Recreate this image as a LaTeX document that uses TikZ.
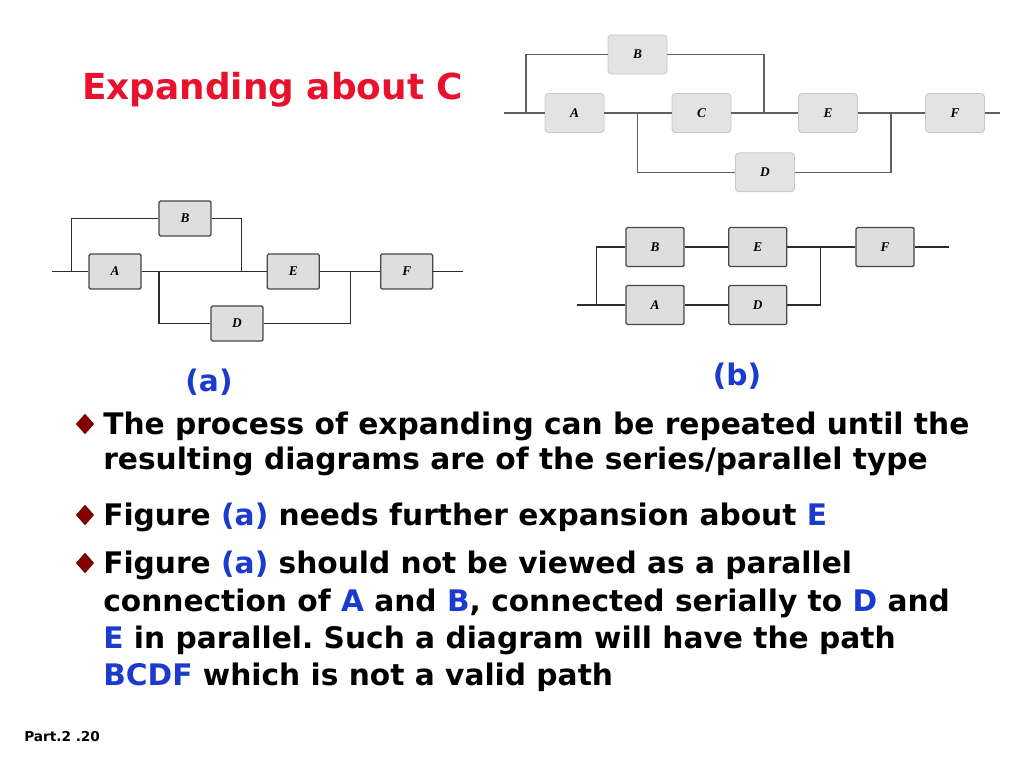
\documentclass[tikz,border=0pt]{standalone}
\usepackage{fontspec}
\setmainfont{DejaVu Sans}
\newfontfamily\boxfont{Liberation Serif}
\usepackage{tikz}
\usetikzlibrary{shapes.geometric}

\definecolor{titlered}{RGB}{232,18,46}
\definecolor{labelblue}{RGB}{28,58,205}
\definecolor{bulletred}{RGB}{128,0,0}
\definecolor{topwire}{RGB}{95,95,95}
\definecolor{wire}{RGB}{45,45,45}

\tikzset{
	topbox/.style={shape=rectangle, rounded corners=2.5pt, draw=black!22, fill=black!11, line width=0.6pt, minimum width=1.475cm, minimum height=0.975cm, font=\boxfont\bfseries\itshape\fontsize{9.5}{9.5}\selectfont},
	smallbox/.style={shape=rectangle, rounded corners=1pt, draw=black!72, fill=black!13, line width=0.9pt, minimum width=1.3cm, minimum height=0.875cm, font=\boxfont\bfseries\itshape\fontsize{9.5}{9.5}\selectfont},
	midbox/.style={smallbox, minimum width=1.45cm, minimum height=0.975cm},
	bodytext/.style={anchor=base west, inner sep=0pt, font=\bfseries\fontsize{21.1}{25}\selectfont},
	bulletmark/.style={shape=diamond, fill=bulletred, inner sep=0pt, minimum width=0.46cm, minimum height=0.52cm}
}
\newcommand{\hl}[1]{\textcolor{labelblue}{#1}}

\begin{document}
\frenchspacing
\begin{tikzpicture}[x=0.025cm, y=-0.025cm]
	\useasboundingbox (0, 0) rectangle (1024, 768);

	% Title:
	\node[anchor=base west, inner sep=0pt, text=titlered, font=\bfseries\fontsize{25.5}{30}\selectfont] (title) at (82, 100) {Expanding about C};

	% Top diagram, nodes and wires:
	\node[topbox] (tA) at (574.5, 113) {A};
	\node[topbox] (tB) at (637.5, 54.5) {B};
	\node[topbox] (tC) at (701.5, 113) {C};
	\node[topbox] (tD) at (765, 172.3) {D};
	\node[topbox] (tE) at (828, 113) {E};
	\node[topbox] (tF) at (955, 113) {F};
	\coordinate (tin) at (504, 113);
	\coordinate (tj1) at (526, 113);
	\coordinate (tj2) at (637.7, 113);
	\coordinate (tj3) at (764, 113);
	\coordinate (tj4) at (891, 113);
	\coordinate (tout) at (1000, 113);
	\begin{scope}[draw=topwire, line width=0.85pt]
		\draw (tin) -- (tA.west);
		\draw (tj1) |- (tB.west);
		\draw (tA.east) -- (tC.west);
		\draw (tj2) |- (tD.west);
		\draw (tB.east) -| (tj3);
		\draw (tC.east) -- (tE.west);
		\draw (tE.east) -- (tF.west);
		\draw (tD.east) -| (tj4);
		\draw (tF.east) -- (tout);
	\end{scope}

	% Figure (a):
	\node[smallbox] (aA) at (115, 271.5) {A};
	\node[smallbox] (aB) at (185, 218.5) {B};
	\node[smallbox] (aD) at (237, 323.5) {D};
	\node[smallbox] (aE) at (293.3, 271.5) {E};
	\node[smallbox] (aF) at (406.7, 271.5) {F};
	\coordinate (ain) at (51.7, 271.5);
	\coordinate (aj1) at (71.7, 271.5);
	\coordinate (aj2) at (159, 271.5);
	\coordinate (aj3) at (241.7, 271.5);
	\coordinate (aj4) at (350.7, 271.5);
	\coordinate (aout) at (462.7, 271.5);
	\begin{scope}[draw=wire, line width=1pt]
		\draw (ain) -- (aA.west);
		\draw (aj1) |- (aB.west);
		\draw (aA.east) -- (aE.west);
		\draw (aB.east) -| (aj3);
		\draw (aj2) |- (aD.west);
		\draw (aE.east) -- (aF.west);
		\draw (aD.east) -| (aj4);
		\draw (aF.east) -- (aout);
	\end{scope}

	% Figure (b):
	\node[midbox] (bB) at (655, 247) {B};
	\node[midbox] (bE) at (757.8, 247) {E};
	\node[midbox] (bF) at (885, 247) {F};
	\node[midbox] (bA) at (655, 305) {A};
	\node[midbox] (bD) at (757.8, 305) {D};
	\coordinate (bin) at (576.7, 305);
	\coordinate (bj1) at (596.7, 305);
	\coordinate (bj2) at (820.7, 247);
	\coordinate (bout) at (949, 247);
	\begin{scope}[draw=wire, line width=1pt]
		\draw (bin) -- (bA.west);
		\draw (bj1) |- (bB.west);
		\draw (bB.east) -- (bE.west);
		\draw (bA.east) -- (bD.west);
		\draw (bE.east) -- (bF.west);
		\draw (bD.east) -| (bj2);
		\draw (bF.east) -- (bout);
	\end{scope}

	% Captions:
	\node[bodytext, anchor=base, text=labelblue] (capa) at (209, 391) {(a)};
	\node[bodytext, anchor=base, text=labelblue] (capb) at (737, 385) {(b)};

	% Bullets and text:
	\node[bulletmark] (m1) at (85, 424) {};
	\node[bulletmark] (m2) at (85, 515) {};
	\node[bulletmark] (m3) at (85, 563) {};
	\node[bodytext] (l1) at (103, 434) {The process of expanding can be repeated until the};
	\node[bodytext] (l2) at (103, 469) {resulting diagrams are of the series/parallel type};
	\node[bodytext] (l3) at (103, 525) {Figure \hl{(a)} needs further expansion about \hl{E}};
	\node[bodytext] (l4) at (103, 573) {Figure \hl{(a)} should not be viewed as a parallel};
	\node[bodytext] (l5) at (103, 611.5) {connection of \hl{A} and \hl{B}, connected serially to \hl{D} and};
	\node[bodytext] (l6) at (103, 648) {\hl{E} in parallel. Such a diagram will have the path};
	\node[bodytext] (l7) at (103, 685.5) {\hl{BCDF} which is not a valid path};

	% Footer:
	\node[anchor=base west, inner sep=0pt, font=\bfseries\fontsize{9.7}{12}\selectfont] (foot) at (24, 741.7) {Part.2 .20};
\end{tikzpicture}
\end{document}
